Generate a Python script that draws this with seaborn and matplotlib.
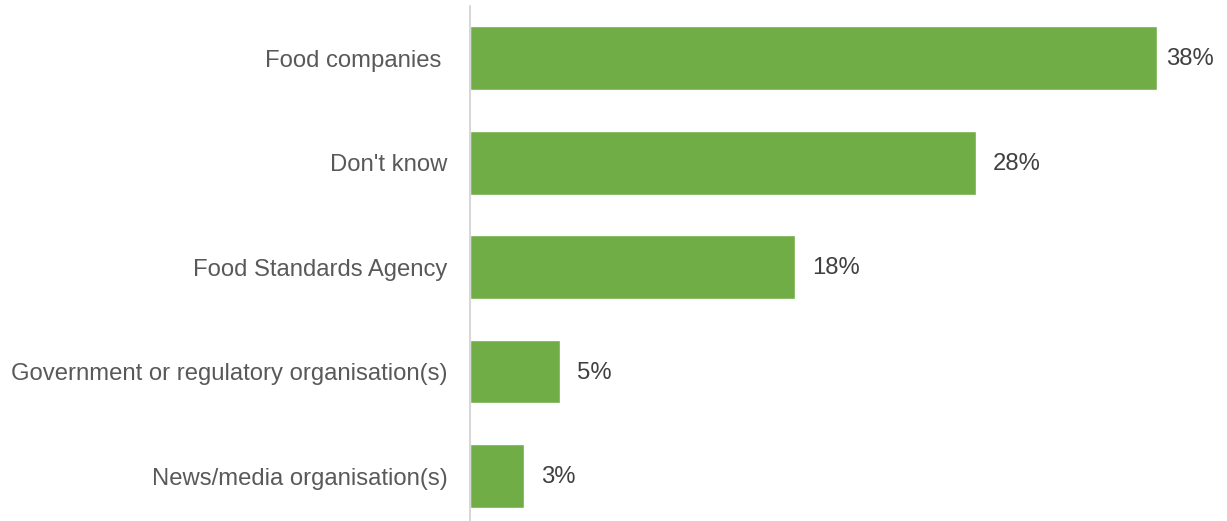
import matplotlib
matplotlib.use('Agg')
import matplotlib.pyplot as plt
import seaborn as sns
import pandas as pd

categories = ['Food companies ', "Don't know", 'Food Standards Agency',
              'Government or regulatory organisation(s)', 'News/media organisation(s)']
values = [38, 28, 18, 5, 3]

df = pd.DataFrame({'source': categories, 'pct': values})

sns.set_style('white')
plt.rcParams['font.family'] = ['Liberation Sans', 'DejaVu Sans']

fig = plt.figure(figsize=(12.27, 5.21), dpi=100)
ax = fig.add_axes([470 / 1227, 0, 1 - 470 / 1227, 515 / 521])

sns.barplot(data=df, x='pct', y='source', orient='h', color='#70AD47',
            width=0.61, saturation=1, ax=ax)

ax.set_xlim(0, 41.9)
ax.set_ylim(4.43, -0.5)
ax.set_xlabel('')
ax.set_ylabel('')
ax.set_xticks([])
ax.tick_params(axis='y', length=0, pad=16, labelsize=17.2, labelcolor='#595959')

for s in ['top', 'right', 'bottom']:
    ax.spines[s].set_visible(False)
ax.spines['left'].set_color('#D0D0D0')
ax.spines['left'].set_linewidth(1.2)

# labels sit just past the bar end, the longest one gets squeezed in at the edge
for i, v in enumerate(values):
    ax.text(min(v + 0.94, 38.55), i + 0.01, f'{v}%', va='center', ha='left',
            fontsize=17.2, color='#404040')

fig.savefig('out.png', dpi=100)
